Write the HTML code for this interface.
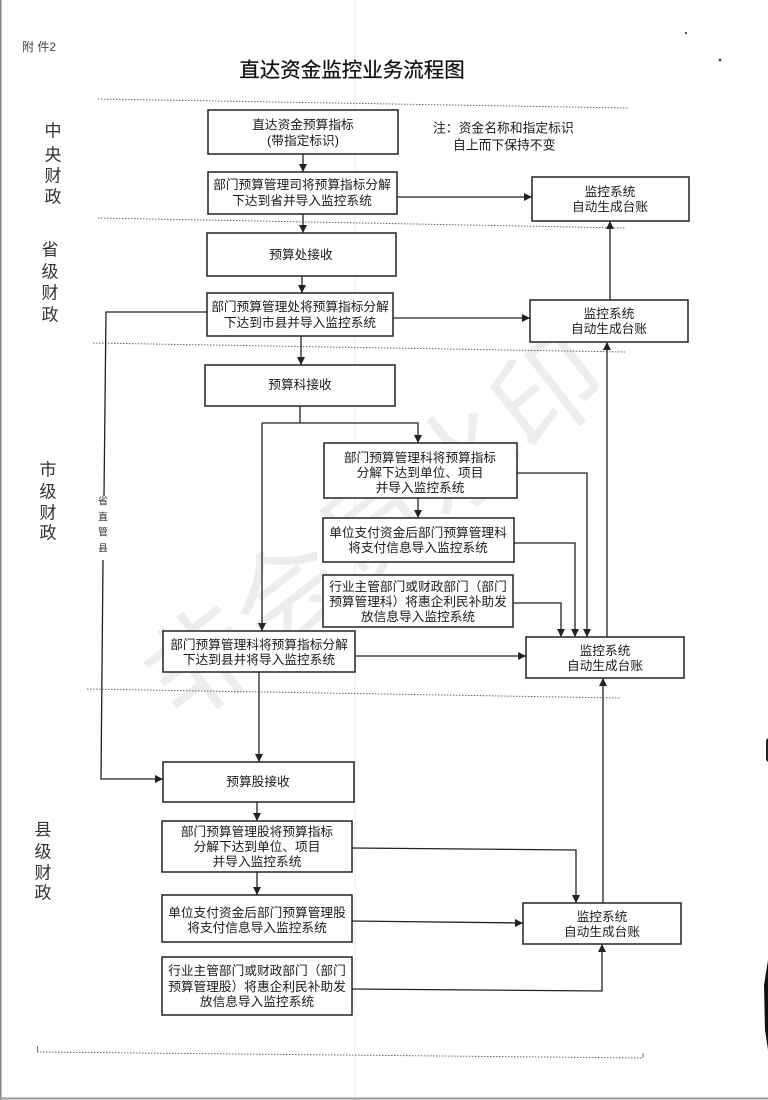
<!DOCTYPE html>
<html lang="zh">
<head>
<meta charset="utf-8">
<style>
  html,body{margin:0;padding:0;background:#fff;}
  body{width:768px;height:1100px;overflow:hidden;position:relative;}
  svg{position:absolute;left:0;top:0;}
  text{font-family:"Liberation Sans","Noto Sans CJK SC","WenQuanYi Zen Hei",sans-serif;}
</style>
</head>
<body>
<svg width="768" height="1100" viewBox="0 0 768 1100" xmlns="http://www.w3.org/2000/svg">
  <!-- scan artifacts -->
  <line x1="355" y1="0" x2="355" y2="1100" stroke="#e6eeee" stroke-width="1.2"/>
  <line x1="0.8" y1="0" x2="0.8" y2="1100" stroke="#8a8a8a" stroke-width="1.6"/>
  <line x1="0" y1="1098.5" x2="768" y2="1098.5" stroke="#9a9a9a" stroke-width="2"/>
  <polygon points="766,740 768,738 768,762 766,760" fill="#222"/>
  <polygon points="764,985 768,960 768,1050 765,1030" fill="#111"/>
  <circle cx="686" cy="33" r="1.2" fill="#555"/>
  <circle cx="720" cy="60" r="1.4" fill="#444"/>

  <!-- watermark -->
  <text x="390" y="560" font-size="108" fill="#ededed" text-anchor="middle" transform="rotate(-38 390 545)" letter-spacing="2">非会员水印</text>

  <!-- header -->
  <text x="22" y="51" font-size="12" fill="#444">附 件2</text>
  <text x="352" y="77" font-size="20.5" fill="#111" text-anchor="middle" stroke="#111" stroke-width="0.25">直达资金监控业务流程图</text>

  <!-- dotted separators -->
  <g stroke="#666" stroke-width="1" stroke-dasharray="1.5,1.5" fill="none">
    <line x1="98" y1="99" x2="628" y2="108"/>
    <line x1="98" y1="218" x2="625" y2="228"/>
    <line x1="93" y1="343" x2="625" y2="352"/>
    <line x1="87" y1="689" x2="620" y2="698"/>
    <line x1="37" y1="1052" x2="643" y2="1058"/>
  </g>
  <line x1="37.5" y1="1046" x2="37.5" y2="1052" stroke="#777" stroke-width="1"/>
  <line x1="643" y1="1053" x2="643" y2="1058" stroke="#777" stroke-width="1"/>

  <!-- side labels -->
  <g font-size="17" fill="#333" text-anchor="middle" dominant-baseline="central">
    <text x="53" y="131">中</text><text x="53" y="155">央</text><text x="53" y="176">财</text><text x="53" y="197">政</text>
    <text x="50" y="250">省</text><text x="50" y="272">级</text><text x="50" y="293">财</text><text x="50" y="315">政</text>
    <text x="48" y="470">市</text><text x="48" y="492">级</text><text x="48" y="513">财</text><text x="48" y="533">政</text>
    <text x="43" y="830">县</text><text x="43" y="852">级</text><text x="43" y="873">财</text><text x="43" y="893">政</text>
  </g>
  <g font-size="10" fill="#333" text-anchor="middle" dominant-baseline="central">
    <text x="103" y="502">省</text><text x="103" y="518">直</text><text x="103" y="533">管</text><text x="103" y="549">县</text>
  </g>

  <!-- connectors -->
  <g stroke="#222" stroke-width="1.3" fill="none">
    <path d="M303 154V172"/>
    <path d="M397 197H532"/>
    <path d="M303 214V233"/>
    <path d="M302 276V293"/>
    <path d="M393 318H530"/>
    <path d="M610 300V221"/>
    <path d="M301 336V365"/>
    <path d="M207 312H106L104 496"/>
    <path d="M103 560L101 779H163"/>
    <path d="M300 406V423M262 423H418V443M262 423V631"/>
    <path d="M418 498V518"/>
    <path d="M517 473H587V637"/>
    <path d="M514 543H575V637"/>
    <path d="M513 603H561V637"/>
    <path d="M355 656H526"/>
    <path d="M607 637V342"/>
    <path d="M259 672V762"/>
    <path d="M257 802V821"/>
    <path d="M257 872V895"/>
    <path d="M352 848L576 850V903"/>
    <path d="M352 921L523 923"/>
    <path d="M352 989L602 991V944"/>
    <path d="M603 903V678"/>
  </g>

  <!-- boxes -->
  <g stroke="#222" stroke-width="1.5" fill="#fff">
    <rect x="208" y="110" width="190" height="44"/>
    <rect x="208" y="172" width="189" height="42"/>
    <rect x="207" y="233" width="189" height="43"/>
    <rect x="207" y="293" width="186" height="43"/>
    <rect x="532" y="177" width="157" height="44"/>
    <rect x="530" y="300" width="158" height="42"/>
    <rect x="205" y="365" width="190" height="41"/>
    <rect x="324" y="443" width="193" height="55"/>
    <rect x="323" y="518" width="191" height="44"/>
    <rect x="323" y="575" width="190" height="52"/>
    <rect x="163" y="631" width="192" height="41"/>
    <rect x="526" y="637" width="158" height="41"/>
    <rect x="163" y="762" width="191" height="40"/>
    <rect x="162" y="821" width="190" height="51"/>
    <rect x="162" y="895" width="190" height="47"/>
    <rect x="162" y="957" width="190" height="58"/>
    <rect x="523" y="903" width="158" height="41"/>
  </g>

  <!-- arrowheads -->
  <g fill="#222">
    <polygon points="299,164 307,164 303,172"/>
    <polygon points="524,193 524,201 532,197"/>
    <polygon points="299,225 307,225 303,233"/>
    <polygon points="298,285 306,285 302,293"/>
    <polygon points="522,314 522,322 530,318"/>
    <polygon points="606,229 614,229 610,221"/>
    <polygon points="297,357 305,357 301,365"/>
    <polygon points="155,775 155,783 163,779"/>
    <polygon points="414,435 422,435 418,443"/>
    <polygon points="258,623 266,623 262,631"/>
    <polygon points="414,510 422,510 418,518"/>
    <polygon points="583,629 591,629 587,637"/>
    <polygon points="571,629 579,629 575,637"/>
    <polygon points="557,629 565,629 561,637"/>
    <polygon points="518,652 518,660 526,656"/>
    <polygon points="603,350 611,350 607,342"/>
    <polygon points="255,754 263,754 259,762"/>
    <polygon points="253,813 261,813 257,821"/>
    <polygon points="253,887 261,887 257,895"/>
    <polygon points="572,895 580,895 576,903"/>
    <polygon points="515,919 515,927 523,923"/>
    <polygon points="598,952 606,952 602,944"/>
    <polygon points="599,686 607,686 603,678"/>
  </g>

  <!-- box text -->
  <g font-size="12.7" fill="#1a1a1a" text-anchor="middle" dominant-baseline="central">
    <text x="303" y="125">直达资金预算指标</text>
    <text x="303" y="141">(带指定标识)</text>

    <text x="302" y="185">部门预算管理司将预算指标分解</text>
    <text x="302" y="201">下达到省并导入监控系统</text>

    <text x="301" y="255">预算处接收</text>

    <text x="300" y="307">部门预算管理处将预算指标分解</text>
    <text x="300" y="323">下达到市县并导入监控系统</text>

    <text x="610" y="192">监控系统</text>
    <text x="610" y="207">自动生成台账</text>

    <text x="609" y="314">监控系统</text>
    <text x="609" y="329">自动生成台账</text>

    <text x="300" y="385">预算科接收</text>

    <text x="420" y="458">部门预算管理科将预算指标</text>
    <text x="420" y="473">分解下达到单位、项目</text>
    <text x="420" y="488">并导入监控系统</text>

    <text x="418" y="533">单位支付资金后部门预算管理科</text>
    <text x="418" y="548">将支付信息导入监控系统</text>

    <text x="418" y="587">行业主管部门或财政部门（部门</text>
    <text x="418" y="602">预算管理科）将惠企利民补助发</text>
    <text x="418" y="617">放信息导入监控系统</text>

    <text x="259" y="645">部门预算管理科将预算指标分解</text>
    <text x="259" y="660">下达到县并将导入监控系统</text>

    <text x="605" y="651">监控系统</text>
    <text x="605" y="666">自动生成台账</text>

    <text x="258" y="782">预算股接收</text>

    <text x="257" y="832">部门预算管理股将预算指标</text>
    <text x="257" y="847">分解下达到单位、项目</text>
    <text x="257" y="862">并导入监控系统</text>

    <text x="257" y="913">单位支付资金后部门预算管理股</text>
    <text x="257" y="928">将支付信息导入监控系统</text>

    <text x="257" y="971">行业主管部门或财政部门（部门</text>
    <text x="257" y="987">预算管理股）将惠企利民补助发</text>
    <text x="257" y="1002">放信息导入监控系统</text>

    <text x="602" y="917">监控系统</text>
    <text x="602" y="932">自动生成台账</text>
  </g>

  <!-- note -->
  <g font-size="12.8" fill="#1a1a1a" dominant-baseline="central">
    <text x="433" y="128">注：资金名称和指定标识</text>
    <text x="453" y="145">自上而下保持不变</text>
  </g>
</svg>
</body>
</html>
